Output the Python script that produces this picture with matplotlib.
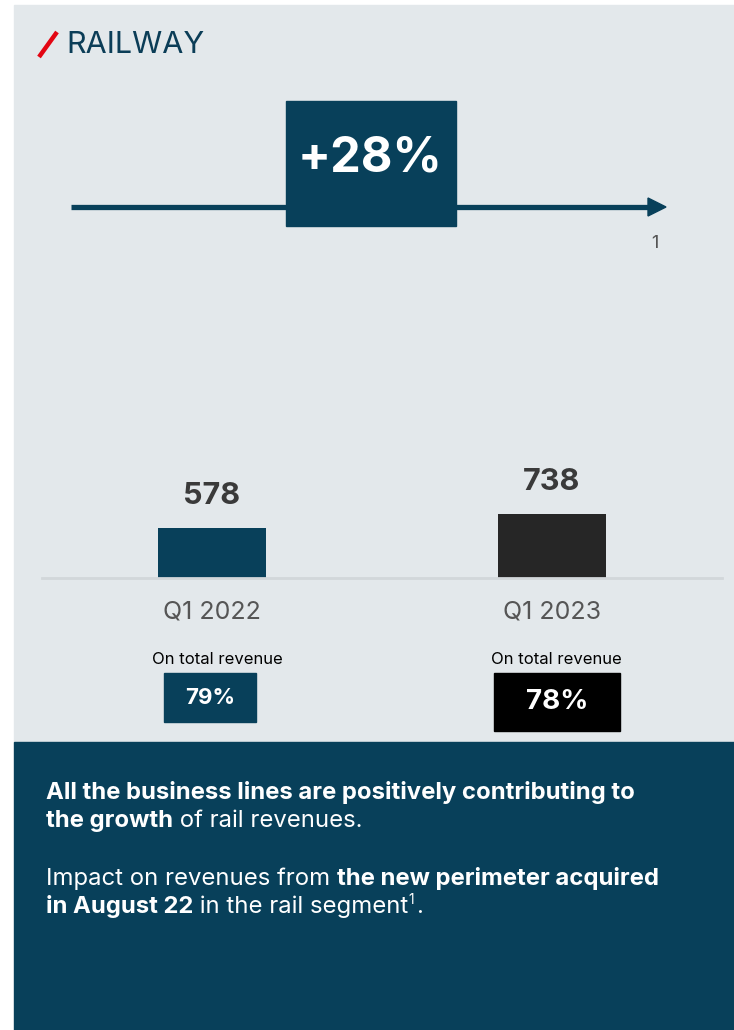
import matplotlib.pyplot as plt
from matplotlib.patches import Rectangle, Polygon

plt.rcParams['font.family'] = ['Inter', 'DejaVu Sans']

# data
periods = ['Q1 2022', 'Q1 2023']
revenue = [578, 738]
share_of_total = ['79%', '78%']
growth_label = '+28%'
footnote_mark = '1'

teal = '#08405A'
light_bg = '#E3E8EB'
bar_colors = [teal, '#262626']
share_colors = [teal, '#000000']

W, H = 734, 1030
fig = plt.figure(figsize=(W / 100, H / 100), dpi=100)
fig.patch.set_facecolor('white')

# full figure overlay in pixel coords
bg = fig.add_axes([0, 0, 1, 1])
bg.set_xlim(0, W)
bg.set_ylim(H, 0)
bg.axis('off')

bg.add_patch(Rectangle((14, 5), W - 14, 737, color=light_bg, zorder=0))
bg.add_patch(Rectangle((14, 742), W - 14, H - 742, color=teal, zorder=0))

# title
bg.plot([39, 57], [57, 32], color='#E30613', lw=3.2, solid_capstyle='butt')
bg.text(66, 45, 'RAILWAY', color='#0B3D57', fontsize=22, va='center', ha='left')

# growth arrow with box
bg.plot([71, 650], [207, 207], color=teal, lw=3.8, solid_capstyle='butt', zorder=1)
bg.add_patch(Polygon([[648, 198], [666, 207], [648, 216]], color=teal, zorder=1))
bg.add_patch(Rectangle((286, 101), 170, 125, color=teal, zorder=2))
bg.text(370, 158, growth_label, color='white', fontsize=35, fontweight='bold',
        ha='center', va='center', zorder=3)
bg.text(655, 243, footnote_mark, color='#555555', fontsize=13, ha='center', va='center')

# bar chart
ax = fig.add_axes([42 / W, (H - 578) / H, 680 / W, 278 / H])
ax.patch.set_alpha(0)
x = range(len(periods))
bars = ax.bar(x, revenue, width=0.315, color=bar_colors)
ax.set_xlim(-0.5, 1.5)
ax.set_ylim(0, revenue[0] * 278 / 50)
for b, v in zip(bars, revenue):
    ax.annotate(str(v), (b.get_x() + b.get_width() / 2, v), xytext=(0, 32),
                textcoords='offset pixels', ha='center', va='center',
                fontsize=22, fontweight='bold', color='#3A3A3A')
ax.set_xticks(list(x), periods)
ax.tick_params(axis='x', length=0, pad=16, labelsize=18, labelcolor='#555555')
ax.set_yticks([])
for s in ['top', 'right', 'left']:
    ax.spines[s].set_visible(False)
ax.spines['bottom'].set_color('#D2D7DA')
ax.spines['bottom'].set_linewidth(2)

# share of total revenue boxes
share_centers = [217, 556]
share_boxes = [(164, 673, 92, 49, 16), (494, 673, 126, 58, 20)]
for cx, lab, col, (bx, by, bw, bh, fs) in zip(share_centers, share_of_total,
                                               share_colors, share_boxes):
    bg.text(cx, 660, 'On total revenue', color='black', fontsize=12,
            ha='center', va='center')
    bg.add_patch(Rectangle((bx, by), bw, bh, color=col))
    bg.text(bx + bw / 2, by + bh / 2, lab, color='white', fontsize=fs,
            fontweight='bold', ha='center', va='center')

# commentary text with mixed weights
def write_line(y, parts, size=17.2):
    prev = None
    for txt, weight in parts:
        if prev is None:
            prev = bg.text(46, y, txt, color='white', fontsize=size,
                           fontweight=weight, ha='left', va='bottom')
        else:
            prev = bg.annotate(txt, xy=(1, 0), xycoords=prev, color='white',
                               fontsize=size, fontweight=weight,
                               ha='left', va='bottom')
    return prev

write_line(804, [('All the business lines are positively contributing to', 'bold')])
write_line(832, [('the growth', 'bold'), (' of rail revenues.', 'normal')])
write_line(890, [('Impact on revenues from ', 'normal'),
                 ('the new perimeter acquired', 'bold')])
last = write_line(918, [('in August 22', 'bold'), (' in the rail segment', 'normal')])
sup = bg.annotate(footnote_mark, xy=(1, 0.5), xycoords=last, color='white',
                  fontsize=10, ha='left', va='bottom')
bg.annotate('.', xy=(1, 0), xycoords=last, xytext=(8, 0), textcoords='offset pixels',
            color='white', fontsize=17.2, ha='left', va='bottom')

fig.savefig('out.png', dpi=100)
